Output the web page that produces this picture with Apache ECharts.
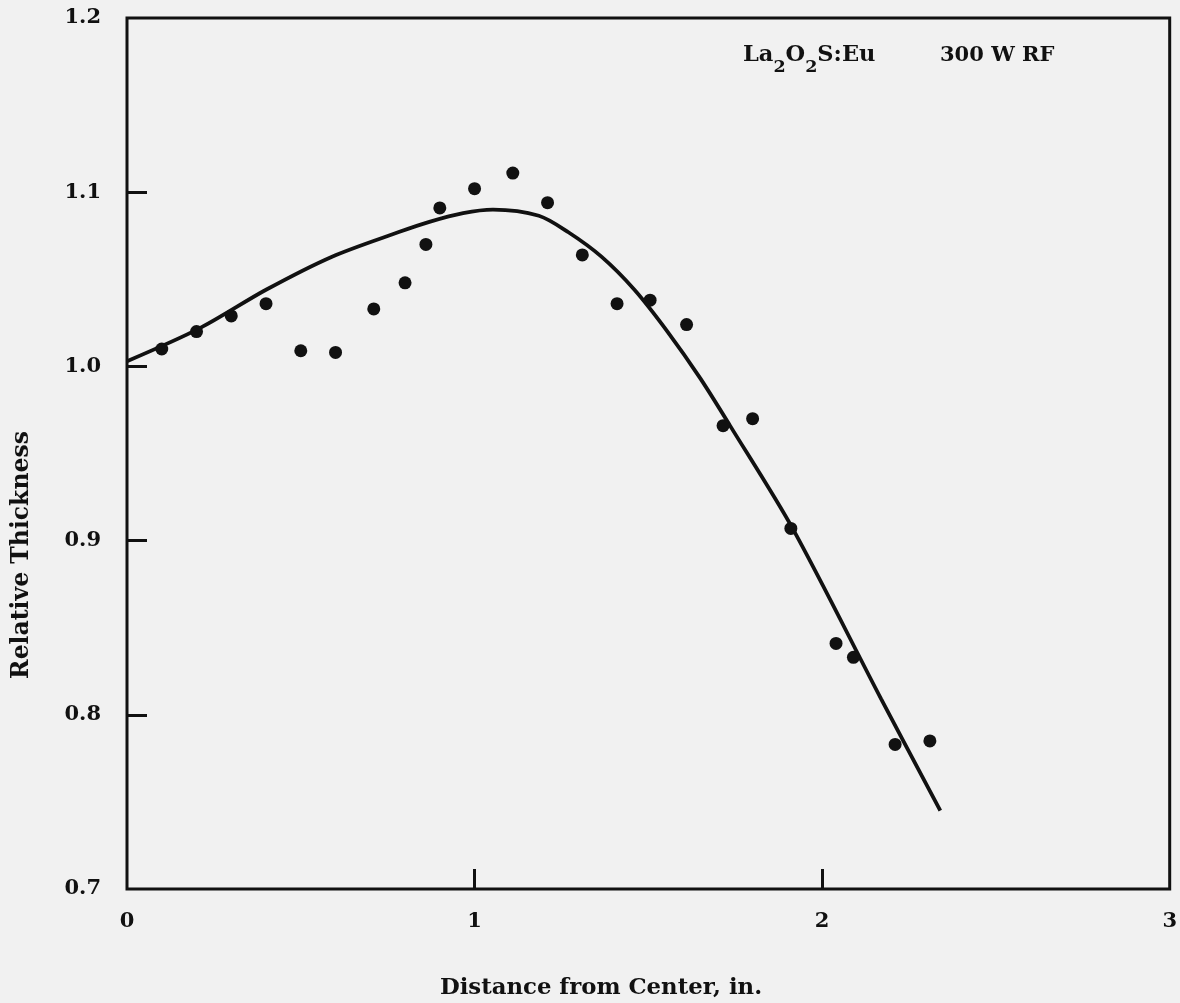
<!DOCTYPE html>
<html>
<head>
<meta charset="utf-8">
<script src="https://cdn.jsdelivr.net/npm/echarts@6/dist/echarts.min.js"></script>
<style>
  html, body { margin: 0; padding: 0; background: #f1f1f1; }
  #chart { width: 1180px; height: 1003px; }
</style>
</head>
<body>
<div id="chart"></div>
<script>
// measured points (distance in inches, relative thickness)
const pointX = [0.10, 0.20, 0.30, 0.40, 0.50, 0.60, 0.71, 0.80, 0.86, 0.90, 1.00, 1.11,
  1.21, 1.31, 1.41, 1.505, 1.61, 1.715, 1.80, 1.91, 2.04, 2.09, 2.21, 2.31]
const pointY = [1.010, 1.020, 1.029, 1.036, 1.009, 1.008, 1.033, 1.048, 1.070, 1.091, 1.102, 1.111,
  1.094, 1.064, 1.036, 1.038, 1.024, 0.966, 0.970, 0.907, 0.841, 0.833, 0.783, 0.785]

// fitted curve
const curveX = [0, 0.21, 0.40, 0.59, 0.78, 0.87, 0.967, 1.053, 1.185, 1.27, 1.365,
  1.46, 1.555, 1.65, 1.735, 1.915, 2.17, 2.34]
const curveY = [1.003, 1.022, 1.044, 1.063, 1.077, 1.083, 1.088, 1.090, 1.0865, 1.077, 1.063,
  1.044, 1.020, 0.993, 0.966, 0.907, 0.809, 0.745]

const xTicks = ['0', '1', '2', '3']
const yTicks = [0.7, 0.8, 0.9, 1.0, 1.1, 1.2]

const font = 'DejaVu Serif'
const ink = '#111'

const chart = echarts.init(document.getElementById('chart'))

chart.setOption({
  backgroundColor: '#f1f1f1',
  animation: false,
  grid: {
    left: 127, top: 18, right: 5, bottom: 114,
    show: true, borderColor: ink, borderWidth: 3, backgroundColor: 'transparent'
  },
  xAxis: {
    type: 'value', min: 0, max: 3, interval: 1,
    axisLine: { show: false },
    splitLine: { show: false },
    axisTick: {
      show: true, inside: true, length: 20, customValues: [1, 2],
      lineStyle: { color: ink, width: 3 }
    },
    axisLabel: {
      margin: 22, color: ink, fontFamily: font, fontWeight: 'bold', fontSize: 21,
      customValues: [0, 1, 2, 3],
      formatter: v => xTicks[Math.round(v)]
    }
  },
  yAxis: {
    type: 'value', min: 0.7, max: 1.2, interval: 0.1,
    axisLine: { show: false },
    splitLine: { show: false },
    axisTick: {
      show: true, inside: true, length: 20, customValues: yTicks.slice(1, -1),
      lineStyle: { color: ink, width: 3 }
    },
    axisLabel: {
      margin: 26, color: ink, fontFamily: font, fontWeight: 'bold', fontSize: 21,
      customValues: yTicks,
      formatter: v => v.toFixed(1)
    }
  },
  graphic: [
    {
      type: 'text', x: 22, y: 555, rotation: Math.PI / 2,
      style: {
        text: 'Relative Thickness', fill: ink, font: 'bold 23.5px "DejaVu Serif"',
        align: 'center', verticalAlign: 'middle'
      }
    },
    {
      type: 'text', x: 601, y: 988,
      style: {
        text: 'Distance from Center, in.', fill: ink, font: 'bold 22.8px "DejaVu Serif"',
        align: 'center', verticalAlign: 'middle'
      }
    },
    {
      type: 'text', x: 743, y: 44,
      style: {
        text: '{n|La}{s|2}{n|O}{s|2}{n|S:Eu}',
        fill: ink,
        rich: {
          n: { fontFamily: font, fontWeight: 'bold', fontSize: 22.5, lineHeight: 24, verticalAlign: 'top', fill: ink },
          s: { fontFamily: font, fontWeight: 'bold', fontSize: 17.5, lineHeight: 17, padding: [14, 0, 0, 0], verticalAlign: 'top', fill: ink }
        }
      }
    },
    {
      type: 'text', x: 940, y: 45,
      style: {
        text: '300 W RF', fill: ink, font: 'bold 21px "DejaVu Serif"'
      }
    }
  ],
  series: [
    {
      type: 'line',
      data: curveX.map((x, i) => [x, curveY[i]]),
      smooth: 0.3,
      showSymbol: false,
      lineStyle: { color: ink, width: 3.8 },
      z: 2
    },
    {
      type: 'scatter',
      data: pointX.map((x, i) => [x, pointY[i]]),
      symbolSize: 13,
      itemStyle: { color: ink, opacity: 1 },
      z: 3
    }
  ]
})
</script>
</body>
</html>
